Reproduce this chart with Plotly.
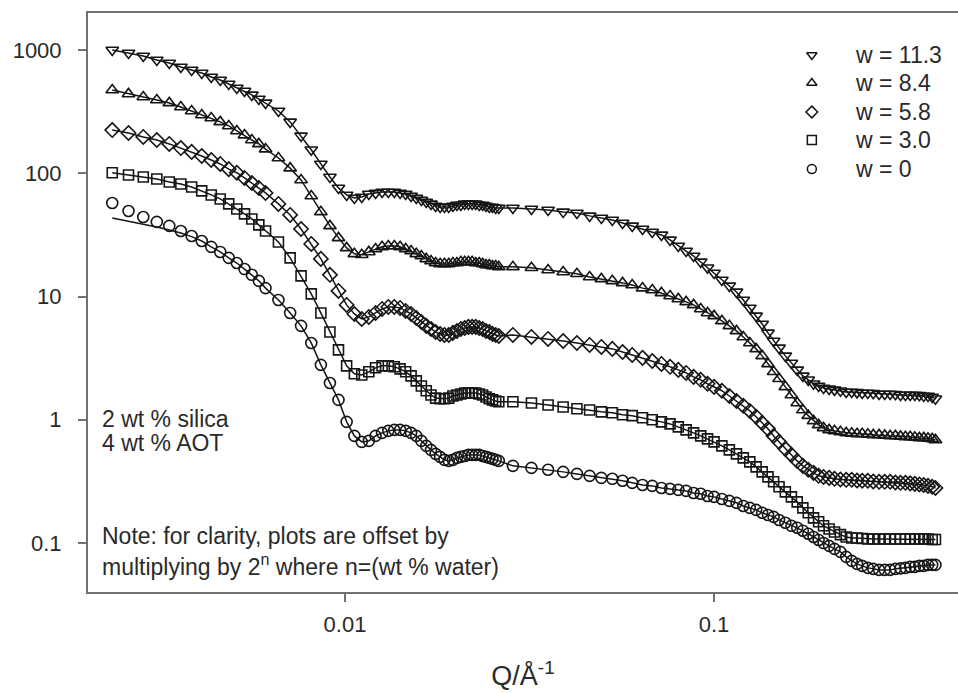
import plotly.graph_objects as go

# Scattering vector Q (1/Angstrom), shared by all samples
q = [0.00234, 0.00259, 0.00284, 0.00309, 0.00334, 0.00359, 0.00384, 0.00409,
     0.00434, 0.00459, 0.00484, 0.00509, 0.00534, 0.00559, 0.00584, 0.00609,
     0.0066, 0.0071, 0.0076, 0.0081, 0.0086, 0.0091, 0.0096, 0.0101, 0.0106, 0.0111,
     0.0116, 0.0121, 0.0126, 0.0131, 0.0136, 0.0141, 0.0146, 0.0151, 0.0156, 0.0161,
     0.0166, 0.0171, 0.0176, 0.0181, 0.0186, 0.0191, 0.0196, 0.0201, 0.0206, 0.0211,
     0.0216, 0.0221, 0.0226, 0.0231, 0.0236, 0.0241, 0.0246, 0.0251, 0.0256, 0.0261,
     0.0285, 0.032, 0.0355, 0.039, 0.0425, 0.046, 0.0495, 0.053, 0.0565, 0.060,
     0.064, 0.068, 0.072, 0.076, 0.080, 0.084, 0.088, 0.092, 0.096, 0.100,
     0.105, 0.110, 0.115, 0.120, 0.125, 0.130, 0.135, 0.140, 0.145, 0.150,
     0.156, 0.162, 0.168, 0.174, 0.180, 0.186, 0.192, 0.198, 0.205, 0.212,
     0.220, 0.228, 0.236, 0.244, 0.252, 0.261, 0.270, 0.280, 0.290, 0.300,
     0.310, 0.320, 0.330, 0.340, 0.350, 0.360, 0.370, 0.380, 0.390, 0.398]

# Offset intensities, one list per water content
i_w113 = [1000, 946, 894, 830, 784, 728, 688, 651, 604, 571, 530, 492, 465, 432, 400, 372,
          320, 261, 201, 155, 119, 93.3, 76.0, 66.7, 63.0, 64.2,
          67.9, 69.2, 70.5, 70.5, 70.5, 69.2, 67.9, 65.4, 63.0, 60.7,
          58.5, 56.4, 54.3, 53.3, 53.3, 53.3, 54.3, 55.3, 55.3, 56.4,
          56.4, 56.4, 56.4, 55.3, 55.3, 54.3, 53.3, 53.3, 52.3, 52.3,
          52.3, 51.3, 50.4, 48.6, 47.6, 45.1, 43.4, 41.8, 39.5, 37.4,
          35.3, 33.4, 31.6, 28.8, 25.7, 23.4, 21.3, 19.1, 17.1, 15.5,
          13.6, 12.2, 10.9, 9.38, 8.08, 6.96, 5.99, 5.07, 4.36, 3.83,
          3.30, 2.89, 2.54, 2.27, 2.11, 1.96, 1.88, 1.81, 1.78, 1.75,
          1.72, 1.68, 1.68, 1.67, 1.65, 1.65, 1.64, 1.62, 1.62, 1.62,
          1.61, 1.59, 1.59, 1.59, 1.59, 1.58, 1.56, 1.56, 1.53, 1.48]

i_w84 = [474, 440, 416, 393, 372, 345, 320, 297, 281, 261, 242, 220, 204, 186, 173, 157,
         133, 110, 88.2, 65.4, 48.6, 37.4, 29.9, 24.8, 22.2, 21.8,
         23.0, 24.3, 25.3, 25.7, 25.7, 25.3, 24.3, 23.4, 22.2, 21.3,
         20.2, 19.4, 18.7, 18.4, 18.4, 18.4, 18.7, 18.7, 19.1, 19.1,
         19.1, 19.1, 18.7, 18.7, 18.4, 18.0, 18.0, 17.7, 17.7, 17.4,
         17.4, 17.1, 16.4, 15.8, 15.3, 14.4, 13.9, 13.4, 12.9, 12.4,
         11.7, 11.3, 10.7, 10.1, 9.56, 9.04, 8.55, 7.93, 7.36, 6.96,
         6.34, 5.78, 5.26, 4.70, 4.20, 3.76, 3.30, 2.84, 2.45, 2.15,
         1.85, 1.59, 1.37, 1.20, 1.08, 0.980, 0.909, 0.860, 0.828, 0.813,
         0.798, 0.783, 0.776, 0.769, 0.769, 0.762, 0.754, 0.754, 0.747, 0.740,
         0.740, 0.733, 0.727, 0.727, 0.720, 0.713, 0.713, 0.707, 0.700, 0.687]

i_w58 = [224, 212, 197, 186, 173, 160, 149, 138, 128, 119, 108, 101, 91.6, 83.4, 76.0, 69.2,
         56.4, 45.9, 35.3, 26.7, 20.2, 15.0, 11.1, 8.55, 7.22, 6.58,
         6.83, 7.36, 7.93, 8.23, 8.23, 8.08, 7.64, 7.22, 6.70, 6.22,
         5.78, 5.46, 5.16, 4.97, 4.88, 4.88, 5.07, 5.26, 5.46, 5.56,
         5.67, 5.67, 5.67, 5.56, 5.46, 5.26, 5.16, 4.97, 4.88, 4.79,
         4.88, 4.70, 4.53, 4.36, 4.20, 4.05, 3.90, 3.76, 3.55, 3.36,
         3.18, 3.00, 2.84, 2.69, 2.54, 2.40, 2.23, 2.11, 1.96, 1.85,
         1.72, 1.56, 1.42, 1.30, 1.18, 1.06, 0.944, 0.844, 0.740, 0.662,
         0.581, 0.519, 0.464, 0.423, 0.393, 0.371, 0.351, 0.344, 0.338, 0.332,
         0.328, 0.326, 0.326, 0.322, 0.320, 0.320, 0.316, 0.314, 0.314, 0.314,
         0.310, 0.308, 0.308, 0.305, 0.302, 0.299, 0.296, 0.291, 0.286, 0.280]

i_w30 = [101, 96.9, 93.3, 89.9, 85.0, 81.9, 77.4, 71.9, 66.7, 61.9, 56.4, 51.3, 46.8, 42.6, 38.1, 34.0,
         27.7, 20.6, 14.7, 10.5, 7.36, 5.16, 3.69, 2.74, 2.36, 2.31,
         2.45, 2.64, 2.74, 2.74, 2.69, 2.59, 2.45, 2.27, 2.07, 1.88,
         1.72, 1.59, 1.50, 1.48, 1.48, 1.50, 1.56, 1.59, 1.62, 1.65,
         1.65, 1.65, 1.65, 1.62, 1.59, 1.53, 1.48, 1.45, 1.42, 1.40,
         1.40, 1.37, 1.32, 1.27, 1.23, 1.20, 1.16, 1.14, 1.10, 1.08,
         1.04, 1.00, 0.962, 0.926, 0.876, 0.828, 0.783, 0.740, 0.700, 0.662,
         0.614, 0.570, 0.529, 0.491, 0.456, 0.415, 0.378, 0.344, 0.314, 0.286,
         0.260, 0.237, 0.216, 0.193, 0.176, 0.160, 0.149, 0.138, 0.130, 0.123,
         0.117, 0.112, 0.110, 0.110, 0.109, 0.108, 0.108, 0.108, 0.108, 0.108,
         0.108, 0.108, 0.108, 0.108, 0.108, 0.108, 0.108, 0.108, 0.107, 0.107]

i_w0 = [57.4, 49.4, 44.2, 40.3, 37.4, 34.0, 31.0, 28.2, 25.3, 23.0, 20.6, 18.7, 16.7, 15.0, 13.4, 11.7,
        9.38, 7.36, 5.78, 4.20, 2.79, 1.99, 1.45, 0.962, 0.740, 0.662,
        0.674, 0.740, 0.783, 0.813, 0.828, 0.828, 0.813, 0.783, 0.740, 0.674,
        0.614, 0.570, 0.529, 0.500, 0.473, 0.464, 0.473, 0.491, 0.500, 0.509,
        0.519, 0.519, 0.519, 0.519, 0.509, 0.500, 0.491, 0.482, 0.473, 0.464,
        0.423, 0.407, 0.393, 0.378, 0.364, 0.351, 0.338, 0.332, 0.320, 0.308,
        0.296, 0.291, 0.280, 0.275, 0.270, 0.265, 0.255, 0.251, 0.241, 0.237,
        0.228, 0.220, 0.212, 0.200, 0.193, 0.186, 0.176, 0.169, 0.163, 0.154,
        0.146, 0.138, 0.133, 0.126, 0.119, 0.112, 0.106, 0.100, 0.0949, 0.0897,
        0.0849, 0.0773, 0.0717, 0.0678, 0.0653, 0.0629, 0.0618, 0.0606, 0.0606, 0.0606,
        0.0618, 0.0623, 0.0629, 0.0641, 0.0641, 0.0653, 0.0653, 0.0665, 0.0665, 0.0665]

# Model curve for the dry sample sits below the data at the lowest Q
fit_w0_lowq = [43.4, 41.0, 38.8, 36.7, 34.7, 32.8, 30.6]

labels = ["w = 11.3", "w = 8.4", "w = 5.8", "w = 3.0", "w = 0"]
series = [i_w113, i_w84, i_w58, i_w30, i_w0]
fits = [i_w113, i_w84, i_w58, i_w30, fit_w0_lowq + i_w0[len(fit_w0_lowq):]]
symbols = ["triangle-down-open", "triangle-up-open", "diamond-open", "square-open", "circle-open"]
sizes = [11, 11, 11, 10, 11]

y_ticks = [0.1, 1, 10, 100, 1000]
y_ticktext = ["0.1", "1", "10", "100", "1000"]
x_ticks = [0.01, 0.1]
x_ticktext = ["0.01", "0.1"]

INK = "#161616"
TEXT = "#2a2a2a"
AXIS = "#727272"
FONT = "Liberation Sans, Arial, Helvetica, sans-serif"

fig = go.Figure()

for lab, yv, fv, sym, sz in zip(labels, series, fits, symbols, sizes):
    fig.add_trace(go.Scatter(x=q, y=fv, mode="lines", line=dict(color=INK, width=1.5),
                             hoverinfo="skip", showlegend=False))
    fig.add_trace(go.Scatter(x=q, y=yv, mode="markers", name=lab, showlegend=False,
                             marker=dict(symbol=sym, size=sz, color=INK,
                                         line=dict(color=INK, width=1.6))))

# Key drawn on an overlay axis spanning the plot area in [0, 1]
key_x = 0.832
key_y = [0.9275, 0.8791, 0.8290, 0.7807, 0.7306]
for lab, sym, ky in zip(labels, symbols, key_y):
    fig.add_trace(go.Scatter(x=[key_x], y=[ky], xaxis="x2", yaxis="y2", mode="markers",
                             showlegend=False, hoverinfo="skip",
                             marker=dict(symbol=sym, size=9, color=INK,
                                         line=dict(color=INK, width=1.5))))
    fig.add_annotation(x=0.8793, y=ky, xref="paper", yref="paper", text=lab,
                       showarrow=False, xanchor="left", yanchor="middle",
                       font=dict(family=FONT, size=23, color=TEXT))

notes = [
    ("2 wt % silica", 0.2988),
    ("4 wt % AOT", 0.2573),
    ("Note: for clarity, plots are offset by", 0.0959),
    ("multiplying by 2<sup>n</sup> where n=(wt % water)", 0.0466),
]
for txt, ny in notes:
    fig.add_annotation(x=0.0138, y=ny, xref="paper", yref="paper", text=txt,
                       showarrow=False, xanchor="left", yanchor="middle",
                       font=dict(family=FONT, size=23, color=TEXT))

fig.update_layout(
    width=958, height=693,
    margin=dict(l=88, r=0, t=13, b=101),
    paper_bgcolor="white", plot_bgcolor="white",
    showlegend=False,
    font=dict(family=FONT, color=TEXT),
    xaxis=dict(type="log", range=[-2.6965, -0.339], showgrid=False, zeroline=False,
               showline=True, linecolor=AXIS, linewidth=2, mirror=True,
               ticks="outside", ticklen=8, tickwidth=1.5, tickcolor=AXIS,
               tickvals=x_ticks, ticktext=x_ticktext, ticklabelstandoff=4,
               tickfont=dict(family=FONT, size=22, color=TEXT),
               title=dict(text="Q/Å<sup>-1</sup>", standoff=30,
                          font=dict(family=FONT, size=27, color=TEXT))),
    yaxis=dict(type="log", range=[-1.397, 3.300], showgrid=False, zeroline=False,
               showline=True, linecolor=AXIS, linewidth=2, mirror=False,
               ticks="outside", ticklen=8, tickwidth=1.5, tickcolor=AXIS,
               tickvals=y_ticks, ticktext=y_ticktext, ticklabelstandoff=12,
               tickfont=dict(family=FONT, size=22, color=TEXT)),
    xaxis2=dict(overlaying="x", anchor="y2", range=[0, 1], visible=False, fixedrange=True),
    yaxis2=dict(overlaying="y", anchor="x2", range=[0, 1], visible=False, fixedrange=True),
)

fig.write_html("out.html")
